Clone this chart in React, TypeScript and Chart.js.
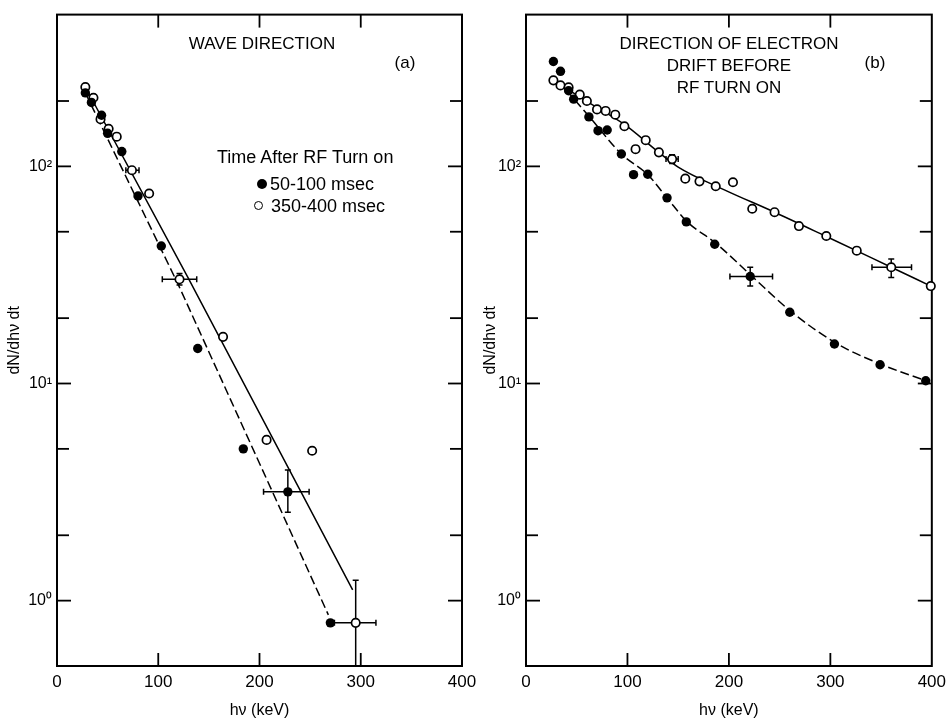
import React, { useEffect, useRef } from "react";
import { Chart, registerables } from "chart.js";
Chart.register(...registerables);

// ---------- shared axes ----------
const xTickValues = [0, 100, 200, 300, 400];
const yTickValues = [0.5, 1, 2, 5, 10, 20, 50, 100, 200, 500];
const yTickLabels: Record<string, string> = { "1": "10⁰", "10": "10¹", "100": "10²" };

// ---------- panel (a): wave direction ----------
const aEarlyX = [28, 34, 44, 50, 64, 80, 103, 139, 184, 228, 270];
const aEarlyY = [218, 197, 172, 142, 117, 73, 43, 14.5, 5.0, 3.17, 0.79];
const aLateX = [28, 36, 43, 51, 59, 74, 91, 121, 164, 207, 252, 295];
const aLateY = [232, 207, 165, 149, 137, 96, 75, 30.2, 16.4, 5.5, 4.9, 0.79];
const aEarlyFitX = [28, 120, 268];
const aEarlyFitY = [218, 28.4, 0.86];
const aLateFitX = [28, 129, 292];
const aLateFitY = [232, 31, 1.12];
// error bars (null = none)
const aErrX = [74, 121, 228, 295];
const aErrY = [96, 30.2, 3.17, 0.79];
const aErrXMin = [68, 104, 204, 274];
const aErrXMax = [81, 138, 249, 315];
const aErrYMin: (number | null)[] = [null, 28.4, 2.55, 0.4];
const aErrYMax: (number | null)[] = [null, 32.1, 4.0, 1.24];

// ---------- panel (b): direction of electron drift ----------
const bEarlyX = [27, 34, 42, 47, 62, 71, 80, 94, 106, 120, 139, 158, 186, 221, 260, 304, 349, 394];
const bEarlyY = [304, 274, 223, 204, 169, 146, 147, 114, 91.6, 92, 71.6, 55.5, 43.8, 31.1, 21.3, 15.2, 12.2, 10.3];
const bLateX = [27, 34, 42, 53, 60, 70, 78.5, 88, 97, 108, 118, 131, 144, 157, 171, 187, 204, 223, 245, 269, 296, 326, 360, 399];
const bLateY = [249, 236, 231, 214, 200, 183, 180, 173, 153, 120, 132, 116, 108, 87.8, 85.3, 81, 84.5, 63.8, 61.5, 53.1, 47.8, 40.9, 34.3, 28.1];
const bEarlyFitX = [40, 63, 94, 120, 139, 159, 187, 223, 262, 307, 351, 394];
const bEarlyFitY = [224, 168, 114, 91.6, 71.6, 55.5, 44.3, 31.1, 21.3, 15.2, 12.2, 10.3];
const bLateFitX = [27, 60, 97, 130, 150, 195, 245, 295, 360, 399];
const bLateFitY = [249, 199, 156, 117, 99.3, 78.2, 61.5, 47.8, 34.3, 28.1];
const bErrX = [144, 221, 360];
const bErrY = [108, 31.1, 34.3];
const bErrXMin = [138, 201, 341];
const bErrXMax = [150, 243, 380];
const bErrYMin: (number | null)[] = [103, 28.1, 30.8];
const bErrYMax: (number | null)[] = [113, 34.3, 37.4];

const FONT = "'Liberation Sans', Arial, sans-serif";

const pts = (xs: number[], ys: number[]) => xs.map((x, i) => ({ x, y: ys[i] }));

type ErrSet = {
  x: number[];
  y: number[];
  xMin: (number | null)[];
  xMax: (number | null)[];
  yMin: (number | null)[];
  yMax: (number | null)[];
};

function makeDecor(err: ErrSet) {
  return {
    id: "decor",
    beforeDatasetsDraw(chart: any) {
      const { ctx, chartArea: a, scales } = chart;
      const xs = scales.x;
      const ys = scales.y;
      ctx.save();
      ctx.strokeStyle = "#000";
      ctx.lineCap = "butt";
      // frame
      ctx.lineWidth = 2;
      ctx.strokeRect(a.left, a.top, a.right - a.left, a.bottom - a.top);
      // inward tick marks
      const seg = (x1: number, y1: number, x2: number, y2: number) => {
        ctx.beginPath();
        ctx.moveTo(x1, y1);
        ctx.lineTo(x2, y2);
        ctx.stroke();
      };
      ctx.lineWidth = 1.8;
      ys.ticks.forEach((t: any) => {
        const v = t.value;
        if (v <= ys.min || v >= ys.max) return;
        const py = ys.getPixelForValue(v);
        const major = Math.abs(Math.log10(v) - Math.round(Math.log10(v))) < 1e-6;
        const len = major ? 14 : 12;
        seg(a.left, py, a.left + len, py);
        seg(a.right - len, py, a.right, py);
      });
      xs.ticks.forEach((t: any) => {
        const v = t.value;
        if (v <= xs.min || v >= xs.max) return;
        const px = xs.getPixelForValue(v);
        seg(px, a.bottom, px, a.bottom - 13);
        seg(px, a.top, px, a.top + 13);
      });
      // error bars
      ctx.beginPath();
      ctx.rect(a.left, a.top, a.right - a.left, a.bottom - a.top);
      ctx.clip();
      ctx.lineWidth = 1.5;
      const cap = 3;
      for (let i = 0; i < err.x.length; i++) {
        const px = xs.getPixelForValue(err.x[i]);
        const py = ys.getPixelForValue(err.y[i]);
        const x0 = err.xMin[i];
        const x1 = err.xMax[i];
        if (x0 != null && x1 != null) {
          const p0 = xs.getPixelForValue(x0);
          const p1 = xs.getPixelForValue(x1);
          seg(p0, py, p1, py);
          seg(p0, py - cap, p0, py + cap);
          seg(p1, py - cap, p1, py + cap);
        }
        const y0 = err.yMin[i];
        const y1 = err.yMax[i];
        if (y0 != null && y1 != null) {
          const q0 = ys.getPixelForValue(y0);
          const q1 = ys.getPixelForValue(y1);
          seg(px, q0, px, q1);
          seg(px - cap, q0, px + cap, q0);
          seg(px - cap, q1, px + cap, q1);
        }
      }
      ctx.restore();
    },
  };
}

type PanelProps = {
  left: number;
  width: number;
  yAxisWidth: number;
  padRight: number;
  early: { x: number; y: number }[];
  late: { x: number; y: number }[];
  earlyFit: { x: number; y: number }[];
  lateFit: { x: number; y: number }[];
  err: ErrSet;
  smooth: boolean;
};

function Panel(p: PanelProps) {
  const ref = useRef<HTMLCanvasElement | null>(null);
  useEffect(() => {
    if (!ref.current) return;
    const chart = new Chart(ref.current, {
      type: "scatter",
      data: {
        datasets: [
          {
            label: "50-100 msec",
            data: p.early,
            pointRadius: 4.7,
            pointBackgroundColor: "#000",
            pointBorderWidth: 0,
            borderColor: "#000",
            showLine: false,
            clip: false,
          } as any,
          {
            label: "350-400 msec",
            data: p.late,
            pointRadius: 4.2,
            pointBackgroundColor: "#fff",
            pointBorderColor: "#000",
            pointBorderWidth: 1.7,
            borderColor: "#000",
            showLine: false,
            clip: false,
          } as any,
          {
            label: "fit 50-100",
            data: p.earlyFit,
            showLine: true,
            pointRadius: 0,
            borderColor: "#000",
            borderWidth: 1.5,
            borderDash: [9, 4],
            cubicInterpolationMode: p.smooth ? "monotone" : "default",
            tension: 0,
          } as any,
          {
            label: "fit 350-400",
            data: p.lateFit,
            showLine: true,
            pointRadius: 0,
            borderColor: "#000",
            borderWidth: 1.5,
            cubicInterpolationMode: p.smooth ? "monotone" : "default",
            tension: 0,
          } as any,
        ],
      },
      options: {
        responsive: false,
        animation: false,
        devicePixelRatio: 1,
        layout: { padding: { left: 0, top: 10, right: p.padRight, bottom: 0 } },
        plugins: { legend: { display: false }, tooltip: { enabled: false } },
        events: [],
        scales: {
          x: {
            type: "linear",
            min: 0,
            max: 400,
            afterBuildTicks: (s: any) => {
              s.ticks = xTickValues.map((value) => ({ value }));
            },
            afterFit: (s: any) => {
              s.height = 55;
            },
            grid: { display: false, drawTicks: false },
            border: { display: false },
            ticks: {
              color: "#000",
              padding: 6,
              font: { family: FONT, size: 17 },
              callback: (v: any) => String(v),
            },
            title: {
              display: true,
              text: "hν (keV)",
              color: "#000",
              font: { family: FONT, size: 16 },
              padding: { top: 0, bottom: 1 },
            },
          },
          y: {
            type: "logarithmic",
            min: 0.5,
            max: 500,
            afterBuildTicks: (s: any) => {
              s.ticks = yTickValues.map((value) => ({ value }));
            },
            afterFit: (s: any) => {
              s.width = p.yAxisWidth;
            },
            grid: { display: false, drawTicks: false },
            border: { display: false },
            ticks: {
              color: "#000",
              padding: 5,
              autoSkip: false,
              font: { family: FONT, size: 16 },
              callback: (v: any) => yTickLabels[String(v)] ?? "",
            },
            title: {
              display: true,
              text: "dN/dhν dt",
              color: "#000",
              font: { family: FONT, size: 16 },
              padding: { top: 5, bottom: 0 },
            },
          },
        },
      } as any,
      plugins: [makeDecor(p.err)],
    });
    return () => chart.destroy();
  }, []);
  return (
    <canvas
      ref={ref}
      width={p.width}
      height={721}
      style={{ position: "absolute", left: p.left, top: 0, width: p.width, height: 721 }}
    />
  );
}

const txt = (style: React.CSSProperties): React.CSSProperties => ({
  position: "absolute",
  fontFamily: FONT,
  color: "#000",
  lineHeight: 1,
  whiteSpace: "nowrap",
  ...style,
});

export default function App() {
  return (
    <div
      style={{
        position: "absolute",
        left: 0,
        top: 0,
        width: 952,
        height: 721,
        background: "#fff",
        overflow: "hidden",
      }}
    >
      <Panel
        left={0}
        width={500}
        yAxisWidth={57}
        padRight={38}
        early={pts(aEarlyX, aEarlyY)}
        late={pts(aLateX, aLateY)}
        earlyFit={pts(aEarlyFitX, aEarlyFitY)}
        lateFit={pts(aLateFitX, aLateFitY)}
        err={{ x: aErrX, y: aErrY, xMin: aErrXMin, xMax: aErrXMax, yMin: aErrYMin, yMax: aErrYMax }}
        smooth={false}
      />
      <Panel
        left={476}
        width={476}
        yAxisWidth={50}
        padRight={19}
        early={pts(bEarlyX, bEarlyY)}
        late={pts(bLateX, bLateY)}
        earlyFit={pts(bEarlyFitX, bEarlyFitY)}
        lateFit={pts(bLateFitX, bLateFitY)}
        err={{ x: bErrX, y: bErrY, xMin: bErrXMin, xMax: bErrXMax, yMin: bErrYMin, yMax: bErrYMax }}
        smooth={true}
      />
      {/* panel (a) texts */}
      <div style={txt({ left: 262, top: 43, fontSize: 17, transform: "translate(-50%,-50%)" })}>
        WAVE DIRECTION
      </div>
      <div style={txt({ left: 405, top: 62, fontSize: 17, transform: "translate(-50%,-50%)" })}>(a)</div>
      <div style={txt({ left: 217, top: 157, fontSize: 18, transform: "translateY(-50%)" })}>
        Time After RF Turn on
      </div>
      <div
        style={{
          position: "absolute",
          left: 257,
          top: 179,
          width: 10,
          height: 10,
          borderRadius: "50%",
          background: "#000",
        }}
      />
      <div style={txt({ left: 270, top: 184, fontSize: 18, transform: "translateY(-50%)" })}>50-100 msec</div>
      <div
        style={{
          position: "absolute",
          left: 254,
          top: 201,
          width: 7,
          height: 7,
          borderRadius: "50%",
          border: "1.5px solid #000",
          background: "#fff",
        }}
      />
      <div style={txt({ left: 271, top: 206, fontSize: 18, transform: "translateY(-50%)" })}>350-400 msec</div>
      {/* panel (b) texts */}
      <div style={txt({ left: 729, top: 43, fontSize: 17, transform: "translate(-50%,-50%)" })}>
        DIRECTION OF ELECTRON
      </div>
      <div style={txt({ left: 729, top: 65, fontSize: 17, transform: "translate(-50%,-50%)" })}>
        DRIFT BEFORE
      </div>
      <div style={txt({ left: 729, top: 87, fontSize: 17, transform: "translate(-50%,-50%)" })}>RF TURN ON</div>
      <div style={txt({ left: 875, top: 62, fontSize: 17, transform: "translate(-50%,-50%)" })}>(b)</div>
    </div>
  );
}
